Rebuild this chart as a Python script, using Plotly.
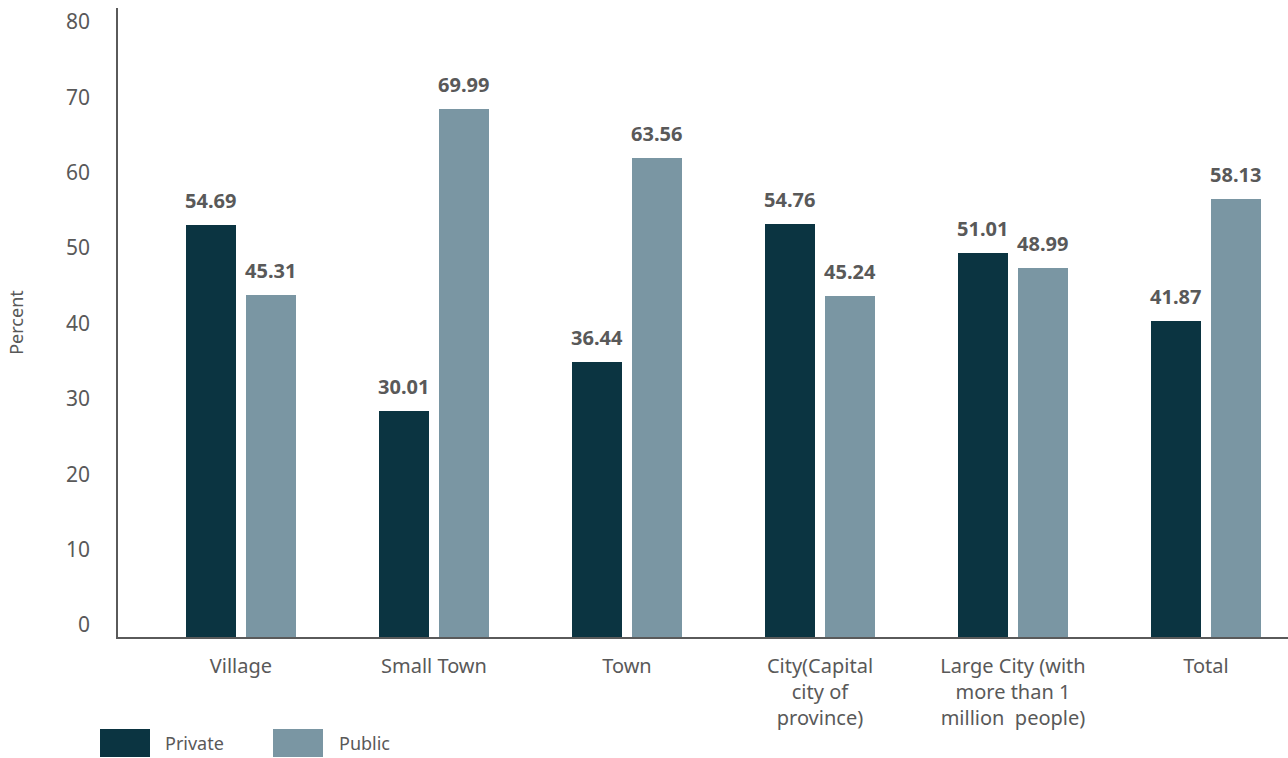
import plotly.graph_objects as go

categories = ["Village", "Small Town", "Town",
              "City(Capital<br>city of<br>province)",
              "Large City (with<br>more than 1<br>million  people)",
              "Total"]
private_vals = [54.69, 30.01, 36.44, 54.76, 51.01, 41.87]
public_vals = [45.31, 69.99, 63.56, 45.24, 48.99, 58.13]
y_ticks = [0, 10, 20, 30, 40, 50, 60, 70, 80]

DARK = "#0B3441"
LIGHT = "#7A96A3"
TEXT = "#595959"
FONT = "Noto Sans"

x_pos = list(range(len(categories)))
bar_w = 0.259

fig = go.Figure()
fig.add_trace(go.Bar(x=x_pos, y=private_vals, name="Private", width=bar_w,
                     offset=-0.285, marker=dict(color=DARK, line=dict(width=0)),
                     showlegend=False))
fig.add_trace(go.Bar(x=x_pos, y=public_vals, name="Public", width=bar_w,
                     offset=0.026, marker=dict(color=LIGHT, line=dict(width=0)),
                     showlegend=False))

annotations = []
for i, (pv, qv) in enumerate(zip(private_vals, public_vals)):
    for xc, v in ((i - 0.285 + bar_w / 2, pv), (i + 0.026 + bar_w / 2, qv)):
        annotations.append(dict(x=xc, y=v, xref="x", yref="y", text=f"{v:.2f}",
                                showarrow=False, yanchor="bottom", yshift=9,
                                font=dict(family=FONT, size=20, color=TEXT,
                                          weight="bold")))

# legend drawn as swatches + labels below the axis
shapes = []
for x0, col in ((100, DARK), (273, LIGHT)):
    shapes.append(dict(type="rect", xref="paper", yref="paper",
                       x0=(x0 - 118) / 1170, x1=(x0 + 50 - 118) / 1170,
                       y0=-(729 - 637) / 629, y1=-(757 - 637) / 629,
                       fillcolor=col, line=dict(width=0)))
for x0, txt in ((163, "Private"), (337, "Public")):
    annotations.append(dict(x=(x0 - 118) / 1170, y=-(743 - 637) / 629,
                            xref="paper", yref="paper", text=txt, showarrow=False,
                            xanchor="left", yanchor="middle",
                            font=dict(family=FONT, size=18, color=TEXT)))

fig.update_layout(
    width=1288, height=758,
    margin=dict(l=118, r=0, t=8, b=121),
    paper_bgcolor="white", plot_bgcolor="white",
    font=dict(family=FONT, color=TEXT),
    shapes=shapes, annotations=annotations,
    bargap=0,
)
fig.update_xaxes(
    tickvals=x_pos, ticktext=categories, range=[-0.637, 5.425],
    showgrid=False, zeroline=False, showline=True, linecolor="#5a5a5a",
    linewidth=1.5, ticks="", tickfont=dict(family=FONT, size=20, color=TEXT),
    ticklabelstandoff=10,
)
fig.update_yaxes(
    tickvals=y_ticks, range=[0, 83.45], showgrid=False, zeroline=False,
    showline=True, linecolor="#5a5a5a", linewidth=1.5, ticks="",
    tickfont=dict(family=FONT, size=21, color=TEXT),
    ticklabelshift=-12, ticklabelstandoff=22,
    title=dict(text="Percent", font=dict(family=FONT, size=18, color=TEXT),
               standoff=38),
)

fig.write_html("out.html")
